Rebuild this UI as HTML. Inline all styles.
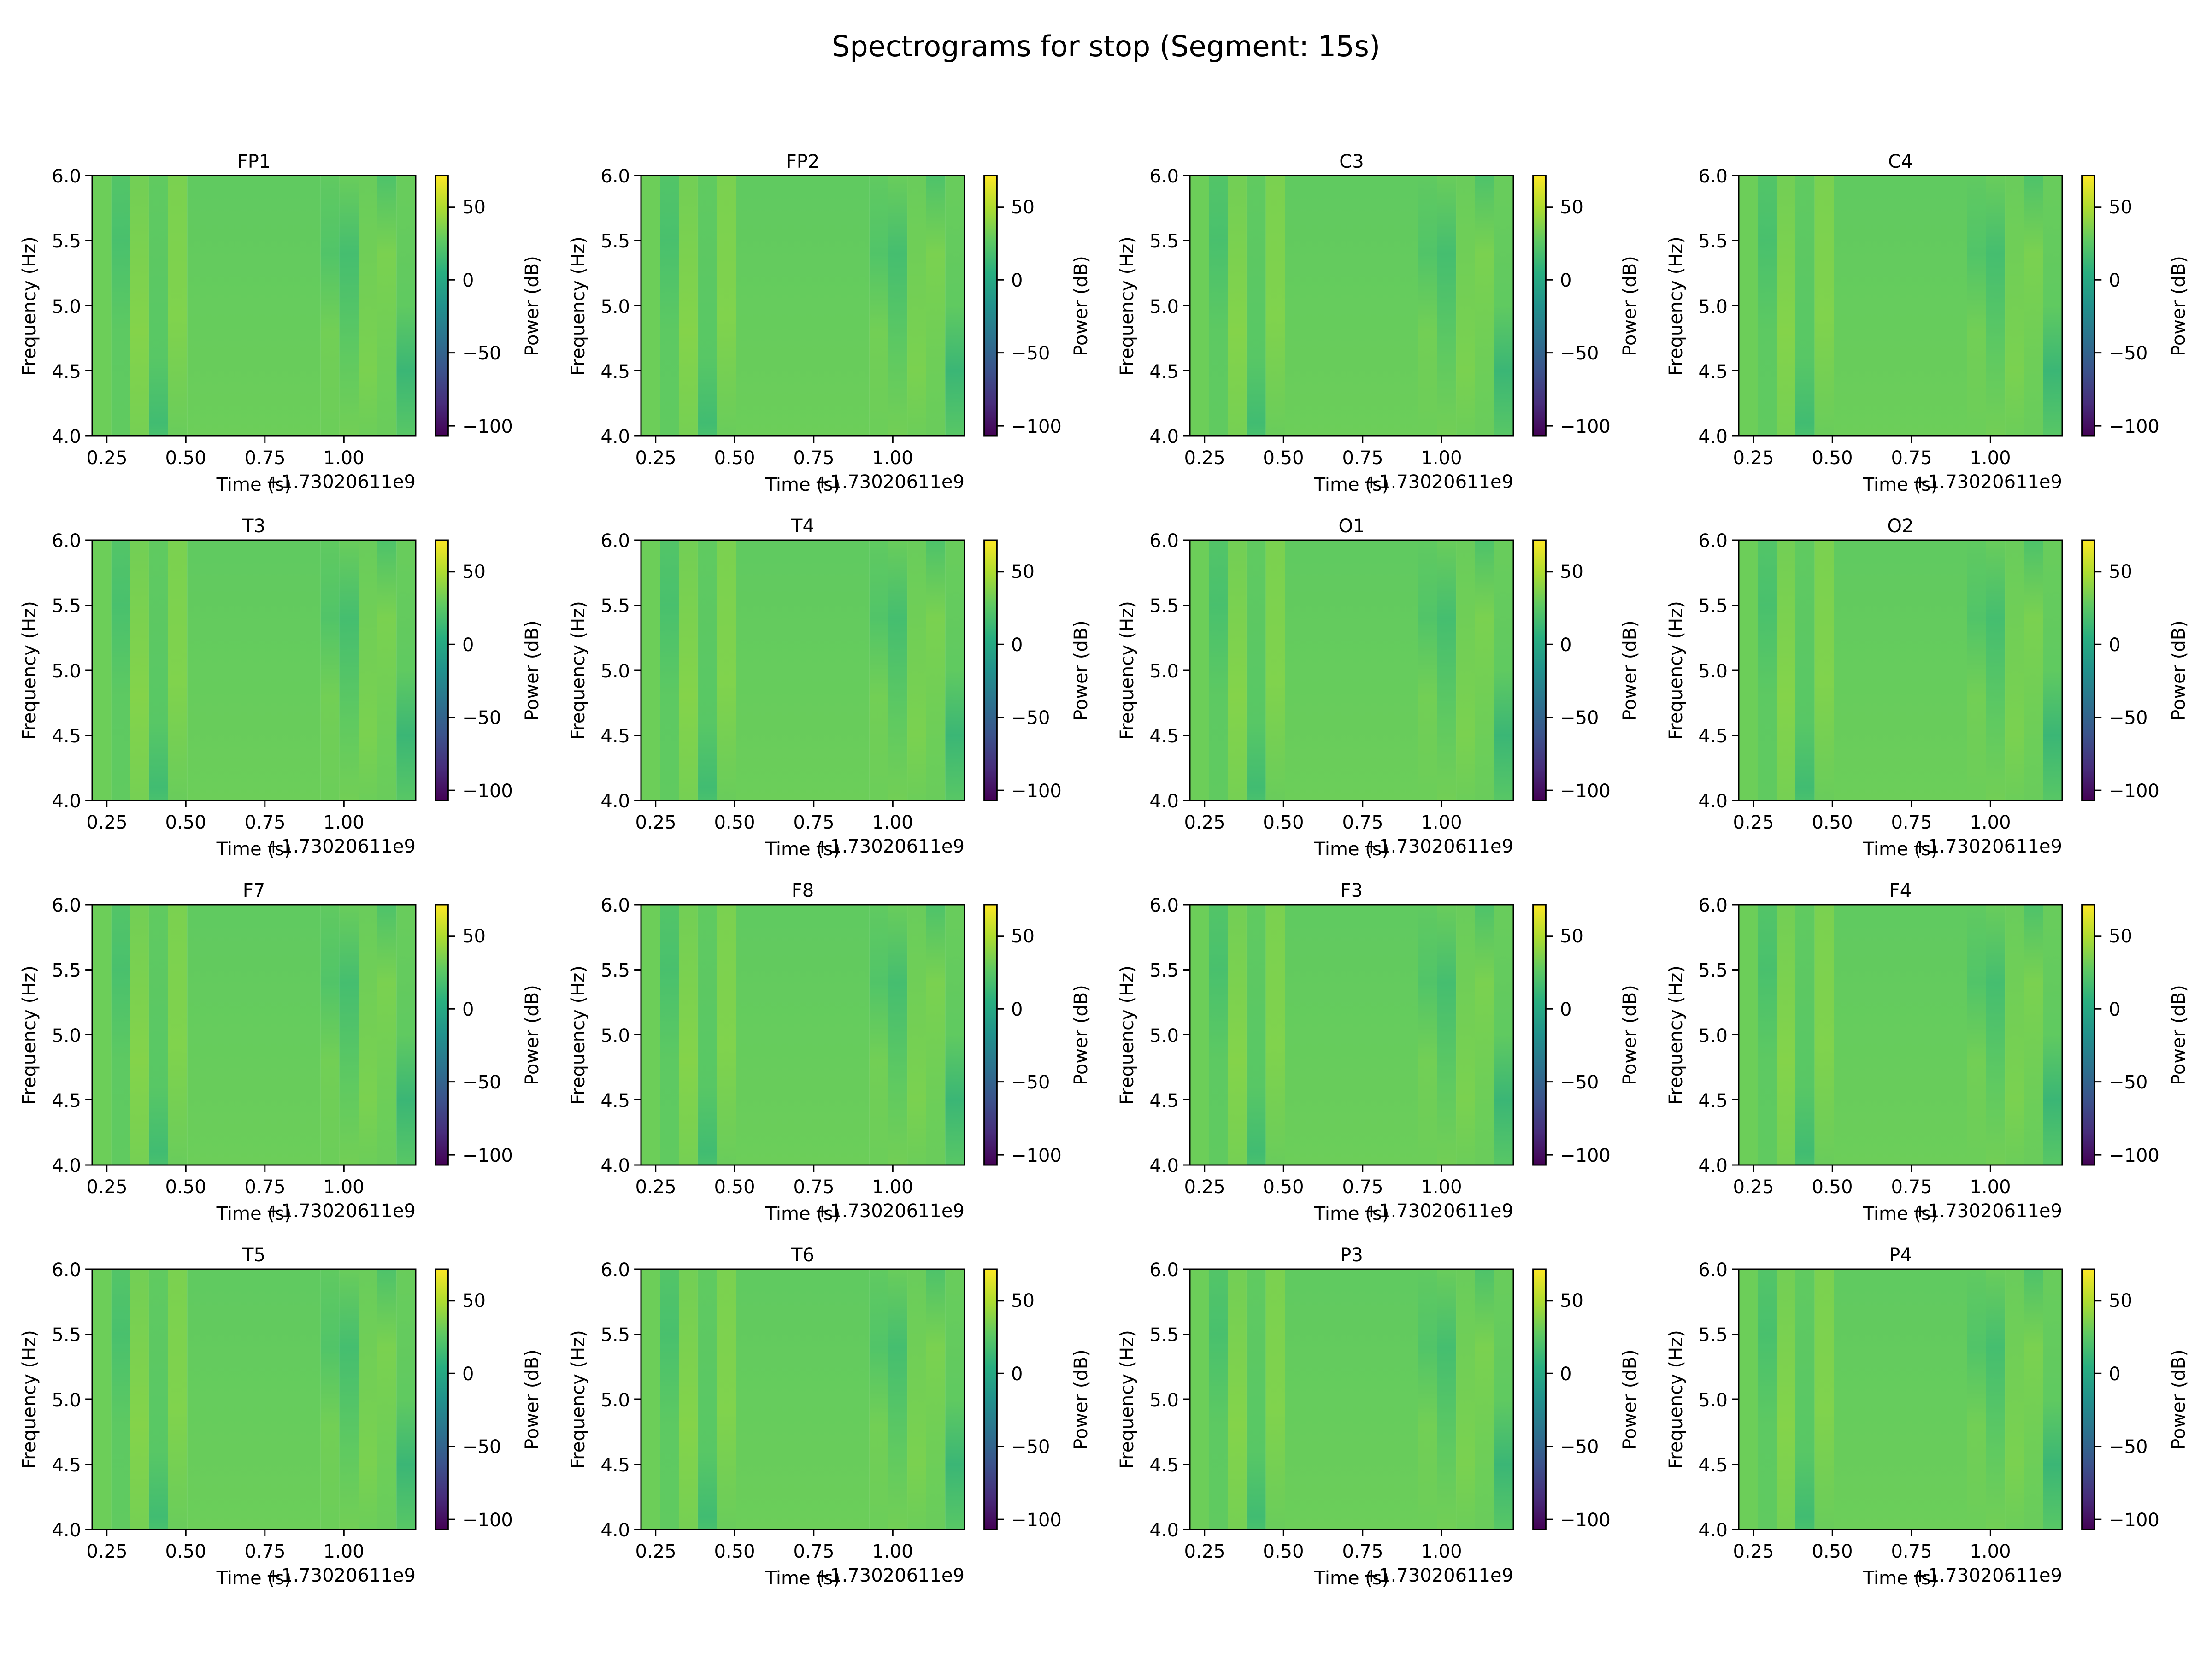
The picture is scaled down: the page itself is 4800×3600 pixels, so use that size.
<!DOCTYPE html>
<html><head><meta charset="utf-8"><style>
html,body{margin:0;padding:0;background:#fff}
svg{display:block}
text{font-family:"DejaVu Sans","Liberation Sans",sans-serif;font-size:40px;fill:#000}
.m{text-anchor:middle}.e{text-anchor:end}
</style></head><body>
<svg width="4800" height="3600" viewBox="0 0 4800 3600" xmlns="http://www.w3.org/2000/svg">
<defs>
<linearGradient id="vir" x1="0" y1="1" x2="0" y2="0">
<stop offset="0" stop-color="#440154"/><stop offset="0.125" stop-color="#472d7b"/><stop offset="0.25" stop-color="#3b528b"/><stop offset="0.375" stop-color="#2c728e"/><stop offset="0.5" stop-color="#21918c"/><stop offset="0.625" stop-color="#28ae80"/><stop offset="0.75" stop-color="#5ec962"/><stop offset="0.875" stop-color="#addc30"/><stop offset="1" stop-color="#fde725"/>
</linearGradient>
<linearGradient id="g2" x1="0" y1="0" x2="0" y2="1"><stop offset="0" stop-color="#4ac16d"/><stop offset="0.25" stop-color="#3bbb75"/><stop offset="0.6" stop-color="#5ac864"/><stop offset="1" stop-color="#5ec962"/></linearGradient>
<linearGradient id="g3" x1="0" y1="0" x2="0" y2="1"><stop offset="0" stop-color="#7ad151"/><stop offset="0.6" stop-color="#95d840"/><stop offset="1" stop-color="#7fd34e"/></linearGradient>
<linearGradient id="g4" x1="0" y1="0" x2="0" y2="1"><stop offset="0" stop-color="#5ec962"/><stop offset="0.7" stop-color="#52c569"/><stop offset="0.95" stop-color="#2fb47c"/><stop offset="1" stop-color="#3bbb75"/></linearGradient>
<linearGradient id="g5" x1="0" y1="0" x2="0" y2="1"><stop offset="0" stop-color="#86d549"/><stop offset="0.55" stop-color="#8fd744"/><stop offset="1" stop-color="#6ccd5a"/></linearGradient>
<linearGradient id="g6" x1="0" y1="0" x2="0" y2="1"><stop offset="0" stop-color="#5ec962"/><stop offset="0.5" stop-color="#67cc5c"/><stop offset="1" stop-color="#70cf57"/></linearGradient>
<linearGradient id="g7" x1="0" y1="0" x2="0" y2="1"><stop offset="0" stop-color="#5ec962"/><stop offset="0.3" stop-color="#48c16e"/><stop offset="0.6" stop-color="#7ad151"/><stop offset="1" stop-color="#70cf57"/></linearGradient>
<linearGradient id="g8" x1="0" y1="0" x2="0" y2="1"><stop offset="0" stop-color="#6ccd5a"/><stop offset="0.3" stop-color="#35b779"/><stop offset="0.7" stop-color="#5ec962"/><stop offset="1" stop-color="#7ad151"/></linearGradient>
<linearGradient id="g9" x1="0" y1="0" x2="0" y2="1"><stop offset="0" stop-color="#6ccd5a"/><stop offset="0.75" stop-color="#86d549"/><stop offset="1" stop-color="#70cf57"/></linearGradient>
<linearGradient id="g10" x1="0" y1="0" x2="0" y2="1"><stop offset="0" stop-color="#42be71"/><stop offset="0.3" stop-color="#86d549"/><stop offset="0.8" stop-color="#70cf57"/><stop offset="1" stop-color="#6ccd5a"/></linearGradient>
<linearGradient id="g11" x1="0" y1="0" x2="0" y2="1"><stop offset="0" stop-color="#6ccd5a"/><stop offset="0.5" stop-color="#5ec962"/><stop offset="0.75" stop-color="#25ab82"/><stop offset="1" stop-color="#52c569"/></linearGradient>
<g id="sp0">
<rect x="0" y="0" width="42" height="567" fill="#70cf57"/>
<rect x="42" y="0" width="41" height="567" fill="url(#g2)"/>
<rect x="83" y="0" width="41" height="567" fill="url(#g3)"/>
<rect x="124" y="0" width="42" height="567" fill="url(#g4)"/>
<rect x="166" y="0" width="42" height="567" fill="url(#g5)"/>
<rect x="208" y="0" width="292" height="567" fill="url(#g6)"/>
<rect x="500" y="0" width="41" height="567" fill="url(#g7)"/>
<rect x="541" y="0" width="42" height="567" fill="url(#g8)"/>
<rect x="583" y="0" width="41" height="567" fill="url(#g9)"/>
<rect x="624" y="0" width="42" height="567" fill="url(#g10)"/>
<rect x="666" y="0" width="42" height="567" fill="url(#g11)"/>
<rect x="0" y="0" width="708" height="567" fill="#65cb5e" opacity="0.35"/>
<rect x="0" y="0" width="708" height="567" fill="none" stroke="#000" stroke-width="3"/>
<path d="M0 0h-15M0 142h-15M0 283h-15M0 425h-15M0 567h-15M32 567v15M205 567v15M378 567v15M551 567v15" stroke="#000" stroke-width="3"/>
<rect x="751" y="0" width="28" height="567" fill="url(#vir)" stroke="#000" stroke-width="3"/>
<path d="M779 69h15M779 227h15M779 386h15M779 545h15" stroke="#000" stroke-width="3"/>
</g>
<g id="sp"><use href="#sp0" transform="scale(0.9915,0.9965)"/></g>
</defs>
<rect width="4800" height="3600" fill="#fff"/>
<text class="m" x="2400" y="122" style="font-size:62px">Spectrograms for stop (Segment: 15s)</text>

<g transform="translate(200,381)"><use href="#sp"/><text class="m" x="351" y="-17">FP1</text><text class="e" x="-24" y="580">4.0</text><text class="e" x="-24" y="439">4.5</text><text class="e" x="-24" y="298">5.0</text><text class="e" x="-24" y="156">5.5</text><text class="e" x="-24" y="15">6.0</text><text class="m" x="32" y="626">0.25</text><text class="m" x="203" y="626">0.50</text><text class="m" x="375" y="626">0.75</text><text class="m" x="546" y="626">1.00</text><text class="m" x="351" y="684">Time (s)</text><text class="e" x="702" y="678">+1.73020611e9</text><text class="m" transform="translate(-123,283) rotate(-90)">Frequency (Hz)</text><text x="803" y="82">50</text><text x="803" y="241">0</text><text x="803" y="399">−50</text><text x="803" y="558">−100</text><text class="m" transform="translate(968,283) rotate(-90)">Power (dB)</text></g>
<g transform="translate(1391,381)"><use href="#sp"/><text class="m" x="351" y="-17">FP2</text><text class="e" x="-24" y="580">4.0</text><text class="e" x="-24" y="439">4.5</text><text class="e" x="-24" y="298">5.0</text><text class="e" x="-24" y="156">5.5</text><text class="e" x="-24" y="15">6.0</text><text class="m" x="32" y="626">0.25</text><text class="m" x="203" y="626">0.50</text><text class="m" x="375" y="626">0.75</text><text class="m" x="546" y="626">1.00</text><text class="m" x="351" y="684">Time (s)</text><text class="e" x="702" y="678">+1.73020611e9</text><text class="m" transform="translate(-123,283) rotate(-90)">Frequency (Hz)</text><text x="803" y="82">50</text><text x="803" y="241">0</text><text x="803" y="399">−50</text><text x="803" y="558">−100</text><text class="m" transform="translate(968,283) rotate(-90)">Power (dB)</text></g>
<g transform="translate(2582,381)"><use href="#sp"/><text class="m" x="351" y="-17">C3</text><text class="e" x="-24" y="580">4.0</text><text class="e" x="-24" y="439">4.5</text><text class="e" x="-24" y="298">5.0</text><text class="e" x="-24" y="156">5.5</text><text class="e" x="-24" y="15">6.0</text><text class="m" x="32" y="626">0.25</text><text class="m" x="203" y="626">0.50</text><text class="m" x="375" y="626">0.75</text><text class="m" x="546" y="626">1.00</text><text class="m" x="351" y="684">Time (s)</text><text class="e" x="702" y="678">+1.73020611e9</text><text class="m" transform="translate(-123,283) rotate(-90)">Frequency (Hz)</text><text x="803" y="82">50</text><text x="803" y="241">0</text><text x="803" y="399">−50</text><text x="803" y="558">−100</text><text class="m" transform="translate(968,283) rotate(-90)">Power (dB)</text></g>
<g transform="translate(3773,381)"><use href="#sp"/><text class="m" x="351" y="-17">C4</text><text class="e" x="-24" y="580">4.0</text><text class="e" x="-24" y="439">4.5</text><text class="e" x="-24" y="298">5.0</text><text class="e" x="-24" y="156">5.5</text><text class="e" x="-24" y="15">6.0</text><text class="m" x="32" y="626">0.25</text><text class="m" x="203" y="626">0.50</text><text class="m" x="375" y="626">0.75</text><text class="m" x="546" y="626">1.00</text><text class="m" x="351" y="684">Time (s)</text><text class="e" x="702" y="678">+1.73020611e9</text><text class="m" transform="translate(-123,283) rotate(-90)">Frequency (Hz)</text><text x="803" y="82">50</text><text x="803" y="241">0</text><text x="803" y="399">−50</text><text x="803" y="558">−100</text><text class="m" transform="translate(968,283) rotate(-90)">Power (dB)</text></g>

<g transform="translate(200,1172)"><use href="#sp"/><text class="m" x="351" y="-17">T3</text><text class="e" x="-24" y="580">4.0</text><text class="e" x="-24" y="439">4.5</text><text class="e" x="-24" y="298">5.0</text><text class="e" x="-24" y="156">5.5</text><text class="e" x="-24" y="15">6.0</text><text class="m" x="32" y="626">0.25</text><text class="m" x="203" y="626">0.50</text><text class="m" x="375" y="626">0.75</text><text class="m" x="546" y="626">1.00</text><text class="m" x="351" y="684">Time (s)</text><text class="e" x="702" y="678">+1.73020611e9</text><text class="m" transform="translate(-123,283) rotate(-90)">Frequency (Hz)</text><text x="803" y="82">50</text><text x="803" y="241">0</text><text x="803" y="399">−50</text><text x="803" y="558">−100</text><text class="m" transform="translate(968,283) rotate(-90)">Power (dB)</text></g>
<g transform="translate(1391,1172)"><use href="#sp"/><text class="m" x="351" y="-17">T4</text><text class="e" x="-24" y="580">4.0</text><text class="e" x="-24" y="439">4.5</text><text class="e" x="-24" y="298">5.0</text><text class="e" x="-24" y="156">5.5</text><text class="e" x="-24" y="15">6.0</text><text class="m" x="32" y="626">0.25</text><text class="m" x="203" y="626">0.50</text><text class="m" x="375" y="626">0.75</text><text class="m" x="546" y="626">1.00</text><text class="m" x="351" y="684">Time (s)</text><text class="e" x="702" y="678">+1.73020611e9</text><text class="m" transform="translate(-123,283) rotate(-90)">Frequency (Hz)</text><text x="803" y="82">50</text><text x="803" y="241">0</text><text x="803" y="399">−50</text><text x="803" y="558">−100</text><text class="m" transform="translate(968,283) rotate(-90)">Power (dB)</text></g>
<g transform="translate(2582,1172)"><use href="#sp"/><text class="m" x="351" y="-17">O1</text><text class="e" x="-24" y="580">4.0</text><text class="e" x="-24" y="439">4.5</text><text class="e" x="-24" y="298">5.0</text><text class="e" x="-24" y="156">5.5</text><text class="e" x="-24" y="15">6.0</text><text class="m" x="32" y="626">0.25</text><text class="m" x="203" y="626">0.50</text><text class="m" x="375" y="626">0.75</text><text class="m" x="546" y="626">1.00</text><text class="m" x="351" y="684">Time (s)</text><text class="e" x="702" y="678">+1.73020611e9</text><text class="m" transform="translate(-123,283) rotate(-90)">Frequency (Hz)</text><text x="803" y="82">50</text><text x="803" y="241">0</text><text x="803" y="399">−50</text><text x="803" y="558">−100</text><text class="m" transform="translate(968,283) rotate(-90)">Power (dB)</text></g>
<g transform="translate(3773,1172)"><use href="#sp"/><text class="m" x="351" y="-17">O2</text><text class="e" x="-24" y="580">4.0</text><text class="e" x="-24" y="439">4.5</text><text class="e" x="-24" y="298">5.0</text><text class="e" x="-24" y="156">5.5</text><text class="e" x="-24" y="15">6.0</text><text class="m" x="32" y="626">0.25</text><text class="m" x="203" y="626">0.50</text><text class="m" x="375" y="626">0.75</text><text class="m" x="546" y="626">1.00</text><text class="m" x="351" y="684">Time (s)</text><text class="e" x="702" y="678">+1.73020611e9</text><text class="m" transform="translate(-123,283) rotate(-90)">Frequency (Hz)</text><text x="803" y="82">50</text><text x="803" y="241">0</text><text x="803" y="399">−50</text><text x="803" y="558">−100</text><text class="m" transform="translate(968,283) rotate(-90)">Power (dB)</text></g>

<g transform="translate(200,1963)"><use href="#sp"/><text class="m" x="351" y="-17">F7</text><text class="e" x="-24" y="580">4.0</text><text class="e" x="-24" y="439">4.5</text><text class="e" x="-24" y="298">5.0</text><text class="e" x="-24" y="156">5.5</text><text class="e" x="-24" y="15">6.0</text><text class="m" x="32" y="626">0.25</text><text class="m" x="203" y="626">0.50</text><text class="m" x="375" y="626">0.75</text><text class="m" x="546" y="626">1.00</text><text class="m" x="351" y="684">Time (s)</text><text class="e" x="702" y="678">+1.73020611e9</text><text class="m" transform="translate(-123,283) rotate(-90)">Frequency (Hz)</text><text x="803" y="82">50</text><text x="803" y="241">0</text><text x="803" y="399">−50</text><text x="803" y="558">−100</text><text class="m" transform="translate(968,283) rotate(-90)">Power (dB)</text></g>
<g transform="translate(1391,1963)"><use href="#sp"/><text class="m" x="351" y="-17">F8</text><text class="e" x="-24" y="580">4.0</text><text class="e" x="-24" y="439">4.5</text><text class="e" x="-24" y="298">5.0</text><text class="e" x="-24" y="156">5.5</text><text class="e" x="-24" y="15">6.0</text><text class="m" x="32" y="626">0.25</text><text class="m" x="203" y="626">0.50</text><text class="m" x="375" y="626">0.75</text><text class="m" x="546" y="626">1.00</text><text class="m" x="351" y="684">Time (s)</text><text class="e" x="702" y="678">+1.73020611e9</text><text class="m" transform="translate(-123,283) rotate(-90)">Frequency (Hz)</text><text x="803" y="82">50</text><text x="803" y="241">0</text><text x="803" y="399">−50</text><text x="803" y="558">−100</text><text class="m" transform="translate(968,283) rotate(-90)">Power (dB)</text></g>
<g transform="translate(2582,1963)"><use href="#sp"/><text class="m" x="351" y="-17">F3</text><text class="e" x="-24" y="580">4.0</text><text class="e" x="-24" y="439">4.5</text><text class="e" x="-24" y="298">5.0</text><text class="e" x="-24" y="156">5.5</text><text class="e" x="-24" y="15">6.0</text><text class="m" x="32" y="626">0.25</text><text class="m" x="203" y="626">0.50</text><text class="m" x="375" y="626">0.75</text><text class="m" x="546" y="626">1.00</text><text class="m" x="351" y="684">Time (s)</text><text class="e" x="702" y="678">+1.73020611e9</text><text class="m" transform="translate(-123,283) rotate(-90)">Frequency (Hz)</text><text x="803" y="82">50</text><text x="803" y="241">0</text><text x="803" y="399">−50</text><text x="803" y="558">−100</text><text class="m" transform="translate(968,283) rotate(-90)">Power (dB)</text></g>
<g transform="translate(3773,1963)"><use href="#sp"/><text class="m" x="351" y="-17">F4</text><text class="e" x="-24" y="580">4.0</text><text class="e" x="-24" y="439">4.5</text><text class="e" x="-24" y="298">5.0</text><text class="e" x="-24" y="156">5.5</text><text class="e" x="-24" y="15">6.0</text><text class="m" x="32" y="626">0.25</text><text class="m" x="203" y="626">0.50</text><text class="m" x="375" y="626">0.75</text><text class="m" x="546" y="626">1.00</text><text class="m" x="351" y="684">Time (s)</text><text class="e" x="702" y="678">+1.73020611e9</text><text class="m" transform="translate(-123,283) rotate(-90)">Frequency (Hz)</text><text x="803" y="82">50</text><text x="803" y="241">0</text><text x="803" y="399">−50</text><text x="803" y="558">−100</text><text class="m" transform="translate(968,283) rotate(-90)">Power (dB)</text></g>

<g transform="translate(200,2754)"><use href="#sp"/><text class="m" x="351" y="-17">T5</text><text class="e" x="-24" y="580">4.0</text><text class="e" x="-24" y="439">4.5</text><text class="e" x="-24" y="298">5.0</text><text class="e" x="-24" y="156">5.5</text><text class="e" x="-24" y="15">6.0</text><text class="m" x="32" y="626">0.25</text><text class="m" x="203" y="626">0.50</text><text class="m" x="375" y="626">0.75</text><text class="m" x="546" y="626">1.00</text><text class="m" x="351" y="684">Time (s)</text><text class="e" x="702" y="678">+1.73020611e9</text><text class="m" transform="translate(-123,283) rotate(-90)">Frequency (Hz)</text><text x="803" y="82">50</text><text x="803" y="241">0</text><text x="803" y="399">−50</text><text x="803" y="558">−100</text><text class="m" transform="translate(968,283) rotate(-90)">Power (dB)</text></g>
<g transform="translate(1391,2754)"><use href="#sp"/><text class="m" x="351" y="-17">T6</text><text class="e" x="-24" y="580">4.0</text><text class="e" x="-24" y="439">4.5</text><text class="e" x="-24" y="298">5.0</text><text class="e" x="-24" y="156">5.5</text><text class="e" x="-24" y="15">6.0</text><text class="m" x="32" y="626">0.25</text><text class="m" x="203" y="626">0.50</text><text class="m" x="375" y="626">0.75</text><text class="m" x="546" y="626">1.00</text><text class="m" x="351" y="684">Time (s)</text><text class="e" x="702" y="678">+1.73020611e9</text><text class="m" transform="translate(-123,283) rotate(-90)">Frequency (Hz)</text><text x="803" y="82">50</text><text x="803" y="241">0</text><text x="803" y="399">−50</text><text x="803" y="558">−100</text><text class="m" transform="translate(968,283) rotate(-90)">Power (dB)</text></g>
<g transform="translate(2582,2754)"><use href="#sp"/><text class="m" x="351" y="-17">P3</text><text class="e" x="-24" y="580">4.0</text><text class="e" x="-24" y="439">4.5</text><text class="e" x="-24" y="298">5.0</text><text class="e" x="-24" y="156">5.5</text><text class="e" x="-24" y="15">6.0</text><text class="m" x="32" y="626">0.25</text><text class="m" x="203" y="626">0.50</text><text class="m" x="375" y="626">0.75</text><text class="m" x="546" y="626">1.00</text><text class="m" x="351" y="684">Time (s)</text><text class="e" x="702" y="678">+1.73020611e9</text><text class="m" transform="translate(-123,283) rotate(-90)">Frequency (Hz)</text><text x="803" y="82">50</text><text x="803" y="241">0</text><text x="803" y="399">−50</text><text x="803" y="558">−100</text><text class="m" transform="translate(968,283) rotate(-90)">Power (dB)</text></g>
<g transform="translate(3773,2754)"><use href="#sp"/><text class="m" x="351" y="-17">P4</text><text class="e" x="-24" y="580">4.0</text><text class="e" x="-24" y="439">4.5</text><text class="e" x="-24" y="298">5.0</text><text class="e" x="-24" y="156">5.5</text><text class="e" x="-24" y="15">6.0</text><text class="m" x="32" y="626">0.25</text><text class="m" x="203" y="626">0.50</text><text class="m" x="375" y="626">0.75</text><text class="m" x="546" y="626">1.00</text><text class="m" x="351" y="684">Time (s)</text><text class="e" x="702" y="678">+1.73020611e9</text><text class="m" transform="translate(-123,283) rotate(-90)">Frequency (Hz)</text><text x="803" y="82">50</text><text x="803" y="241">0</text><text x="803" y="399">−50</text><text x="803" y="558">−100</text><text class="m" transform="translate(968,283) rotate(-90)">Power (dB)</text></g>
</svg>
</body></html>
